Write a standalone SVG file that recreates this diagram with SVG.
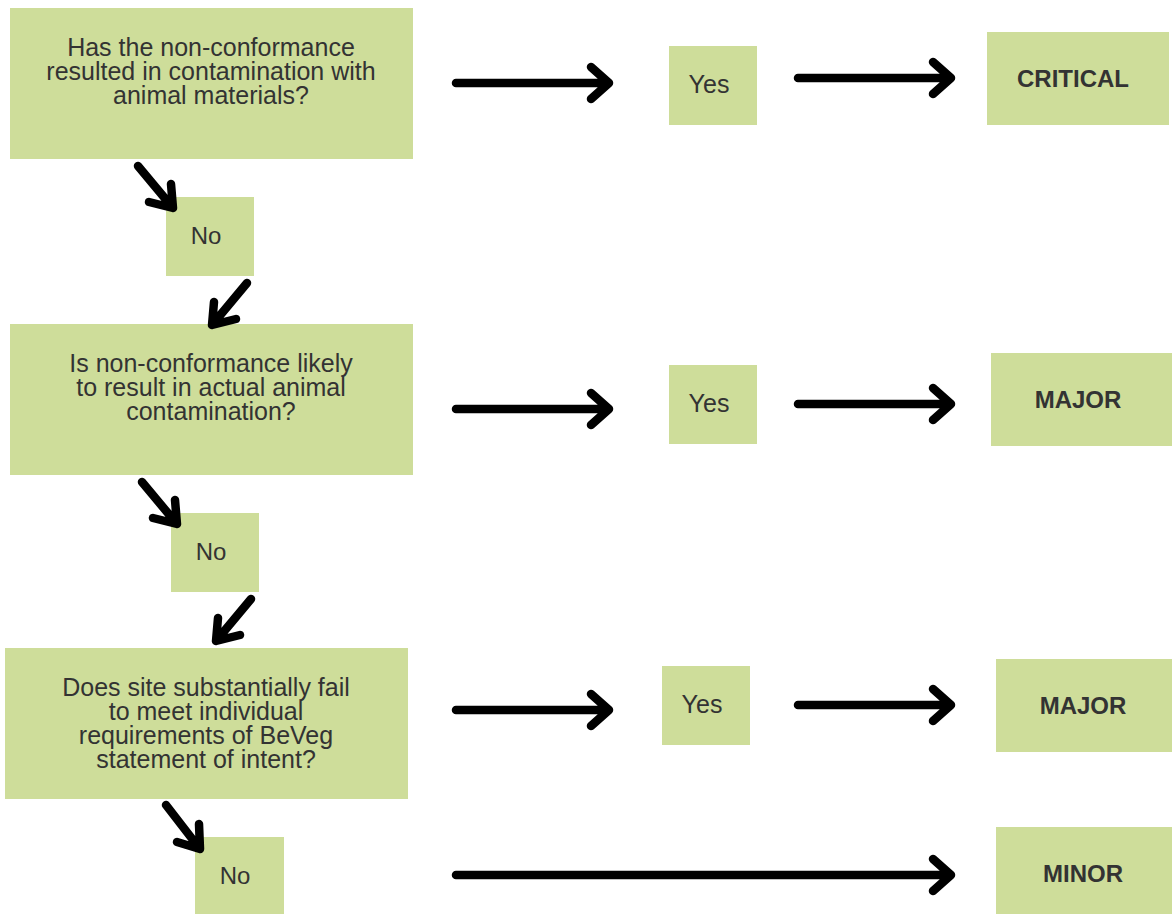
<svg xmlns="http://www.w3.org/2000/svg" width="1172" height="914" viewBox="0 0 1172 914">
  <style>
    .box { fill: #cedd9a; }
    .q { font-family: "Liberation Sans", Arial, sans-serif; font-size: 25px; fill: #333333; text-anchor: middle; }
    .lbl { font-family: "Liberation Sans", Arial, sans-serif; font-size: 24px; fill: #333333; text-anchor: middle; }
    .yes { font-family: "Liberation Sans", Arial, sans-serif; font-size: 25px; fill: #333333; text-anchor: middle; }
    .res { font-family: "Liberation Sans", Arial, sans-serif; font-size: 24px; font-weight: bold; fill: #333333; text-anchor: middle; }
    .arr { fill: none; stroke: #000000; stroke-width: 8.5; stroke-linecap: round; stroke-linejoin: round; }
  </style>

  <rect width="1172" height="914" fill="#ffffff"/>

  <!-- Question 1 -->
  <g id="q1">
    <rect class="box" x="10" y="8" width="403" height="151"/>
    <text class="q" x="211" y="56">Has the non-conformance</text>
    <text class="q" x="211" y="80">resulted in contamination with</text>
    <text class="q" x="211" y="104">animal materials?</text>
  </g>
  <g id="yes1">
    <rect class="box" x="669" y="46" width="88" height="79"/>
    <text class="yes" x="709" y="93">Yes</text>
  </g>
  <g id="critical">
    <rect class="box" x="987" y="32" width="182" height="93"/>
    <text class="res" x="1073" y="87">CRITICAL</text>
  </g>
  <g id="no1">
    <rect class="box" x="166" y="197" width="88" height="79"/>
    <text class="lbl" x="206" y="244">No</text>
  </g>

  <!-- Question 2 -->
  <g id="q2">
    <rect class="box" x="10" y="324" width="403" height="151"/>
    <text class="q" x="211" y="372">Is non-conformance likely</text>
    <text class="q" x="211" y="396">to result in actual animal</text>
    <text class="q" x="211" y="420">contamination?</text>
  </g>
  <g id="yes2">
    <rect class="box" x="669" y="365" width="88" height="79"/>
    <text class="yes" x="709" y="412">Yes</text>
  </g>
  <g id="major1">
    <rect class="box" x="991" y="353" width="181" height="93"/>
    <text class="res" x="1078" y="408">MAJOR</text>
  </g>
  <g id="no2">
    <rect class="box" x="171" y="513" width="88" height="79"/>
    <text class="lbl" x="211" y="560">No</text>
  </g>

  <!-- Question 3 -->
  <g id="q3">
    <rect class="box" x="5" y="648" width="403" height="151"/>
    <text class="q" x="206" y="696">Does site substantially fail</text>
    <text class="q" x="206" y="720">to meet individual</text>
    <text class="q" x="206" y="744">requirements of BeVeg</text>
    <text class="q" x="206" y="768">statement of intent?</text>
  </g>
  <g id="yes3">
    <rect class="box" x="662" y="666" width="88" height="79"/>
    <text class="yes" x="702" y="713">Yes</text>
  </g>
  <g id="major2">
    <rect class="box" x="996" y="659" width="176" height="93"/>
    <text class="res" x="1083" y="714">MAJOR</text>
  </g>
  <g id="no3">
    <rect class="box" x="195" y="837" width="89" height="77"/>
    <text class="lbl" x="235" y="884">No</text>
  </g>
  <g id="minor">
    <rect class="box" x="996" y="827" width="176" height="87"/>
    <text class="res" x="1083" y="882">MINOR</text>
  </g>

  <!-- Connectors -->
  <g id="connectors">
    <!-- horizontal arrows -->
    <path class="arr" d="M456 83 H609 M591 67 L609 83 L591 99"/>
    <path class="arr" d="M798 78 H951 M933 62 L951 78 L933 94"/>
    <path class="arr" d="M456 409 H609 M591 393 L609 409 L591 425"/>
    <path class="arr" d="M798 404 H951 M933 388 L951 404 L933 420"/>
    <path class="arr" d="M456 710 H609 M591 694 L609 710 L591 726"/>
    <path class="arr" d="M798 705 H951 M933 689 L951 705 L933 721"/>
    <path class="arr" d="M456 875 H951 M933 859 L951 875 L933 891"/>
    <!-- diagonal arrows -->
    <path class="arr" d="M138 166 L173 208 M171 184 L173 208 L149 202"/>
    <path class="arr" d="M247 283 L212 325 M214 302 L212 325 L236 319"/>
    <path class="arr" d="M142 482 L177 524 M175 500 L177 524 L153 518"/>
    <path class="arr" d="M251 599 L216 641 M218 618 L216 641 L240 635"/>
    <path class="arr" d="M166 805 L200 849 M199 824 L200 849 L177 842"/>
  </g>
</svg>
